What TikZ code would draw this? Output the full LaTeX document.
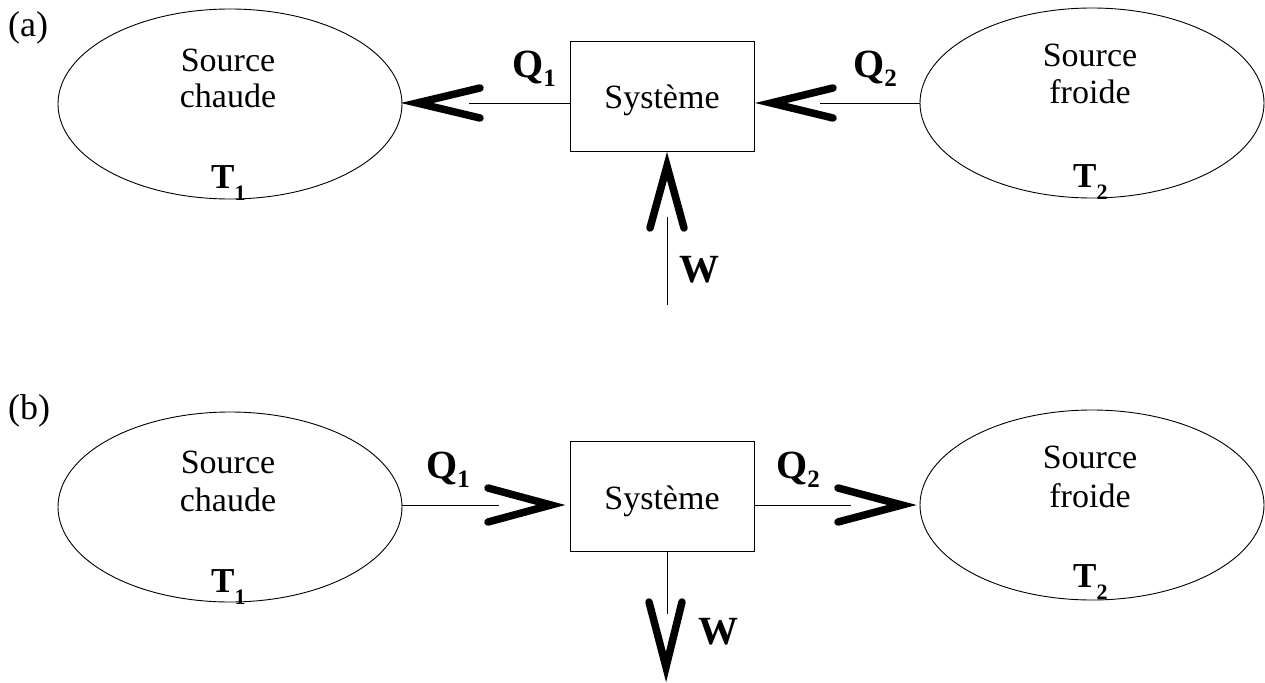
\documentclass[tikz,border=0pt]{standalone}
\usepackage{fontspec}
\setmainfont{Liberation Serif}
\usetikzlibrary{shapes.geometric}

\newcommand{\qlbl}[2]{\textbf{#1}\raisebox{-9pt}{\fontsize{25}{25}\selectfont\textbf{#2}}}
\newcommand{\tlbl}[2]{\textbf{#1}\raisebox{-12pt}{\fontsize{22}{22}\selectfont\textbf{#2}}}

\begin{document}
\begin{tikzpicture}[x=1pt,y=-1pt,
  src/.style={draw,ellipse,line width=0.9pt,minimum width=344pt,minimum height=190pt,inner sep=0pt},
  sys/.style={draw,line width=0.9pt,minimum width=184pt,minimum height=110pt,inner sep=0pt,
    text height=30pt,text depth=4pt,font=\fontsize{34}{38}\selectfont},
  txt/.style={font=\fontsize{34}{38}\selectfont,inner sep=0pt,anchor=base},
  big/.style={font=\fontsize{40}{44}\selectfont,inner sep=0pt,anchor=base west},
  tmp/.style={font=\fontsize{35}{40}\selectfont,inner sep=0pt,anchor=base west},
  thin/.style={line width=0.9pt},
  chev/.style={line width=7.5pt,line cap=round,line join=miter}]

\useasboundingbox (0,0) rectangle (1265,682);

% (a)
\node[txt,anchor=base west,font=\fontsize{36}{40}\selectfont] (labA) at (8,37) {(a)};
\node[src] (hotA) at (230,104) {};
\node[src] (coldA) at (1092,103) {};
\node[sys] (sysA) at (662,96) {Système};
\node[txt] (srcA1) at (228,72) {Source};
\node[txt] (srcA2) at (228,108) {chaude};
\node[txt] (srcA3) at (1090,67) {Source};
\node[txt] (srcA4) at (1090,104) {froide};
\node[tmp] (tA1) at (211,188) {\tlbl{T}{1}};
\node[tmp] (tA2) at (1073,187) {\tlbl{T}{2}};
\node[big] (qA1) at (512,78) {\qlbl{Q}{1}};
\node[big] (qA2) at (853,78) {\qlbl{Q}{2}};
\node[big] (wA) at (679,282) {\textbf{W}};

\coordinate (q1endA) at (469,103);
\coordinate (q2endA) at (820,103);
\coordinate (wtopA) at (667,217);
\coordinate (wbotA) at (667,305);
\draw[thin] (sysA.west |- q1endA) -- (q1endA);
\draw[chev] (480,88) -- (417,103) -- (480,118);
\draw[thin] (coldA.west |- q2endA) -- (q2endA);
\draw[chev] (833,88) -- (771,103) -- (833,118);
\draw[thin] (wtopA) -- (wbotA);
\draw[chev] (650,228) -- (667,166) -- (684,228);

% (b)
\node[txt,anchor=base west,font=\fontsize{36}{40}\selectfont] (labB) at (8,419) {(b)};
\node[src] (hotB) at (230,507) {};
\node[src] (coldB) at (1092,505) {};
\node[sys] (sysB) at (662,496) {Système};
\node[txt] (srcB1) at (228,473) {Source};
\node[txt] (srcB2) at (228,511) {chaude};
\node[txt] (srcB3) at (1090,468) {Source};
\node[txt] (srcB4) at (1090,507) {froide};
\node[tmp] (tB1) at (211,592) {\tlbl{T}{1}};
\node[tmp] (tB2) at (1073,587) {\tlbl{T}{2}};
\node[big] (qB1) at (426,478) {\qlbl{Q}{1}};
\node[big] (qB2) at (776,478) {\qlbl{Q}{2}};
\node[big] (wB) at (698,644) {\textbf{W}};

\coordinate (q1endB) at (499,505);
\coordinate (q2endB) at (851,505);
\coordinate (wendB) at (667,614);
\draw[thin] (hotB.east |- q1endB) -- (q1endB);
\draw[chev] (488,488) -- (551,505) -- (488,522);
\draw[thin] (sysB.east |- q2endB) -- (q2endB);
\draw[chev] (838,488) -- (902,505) -- (838,522);
\draw[thin] (sysB.south -| wendB) -- (wendB);
\draw[chev] (649,602) -- (666,667) -- (682,602);

\end{tikzpicture}
\end{document}
